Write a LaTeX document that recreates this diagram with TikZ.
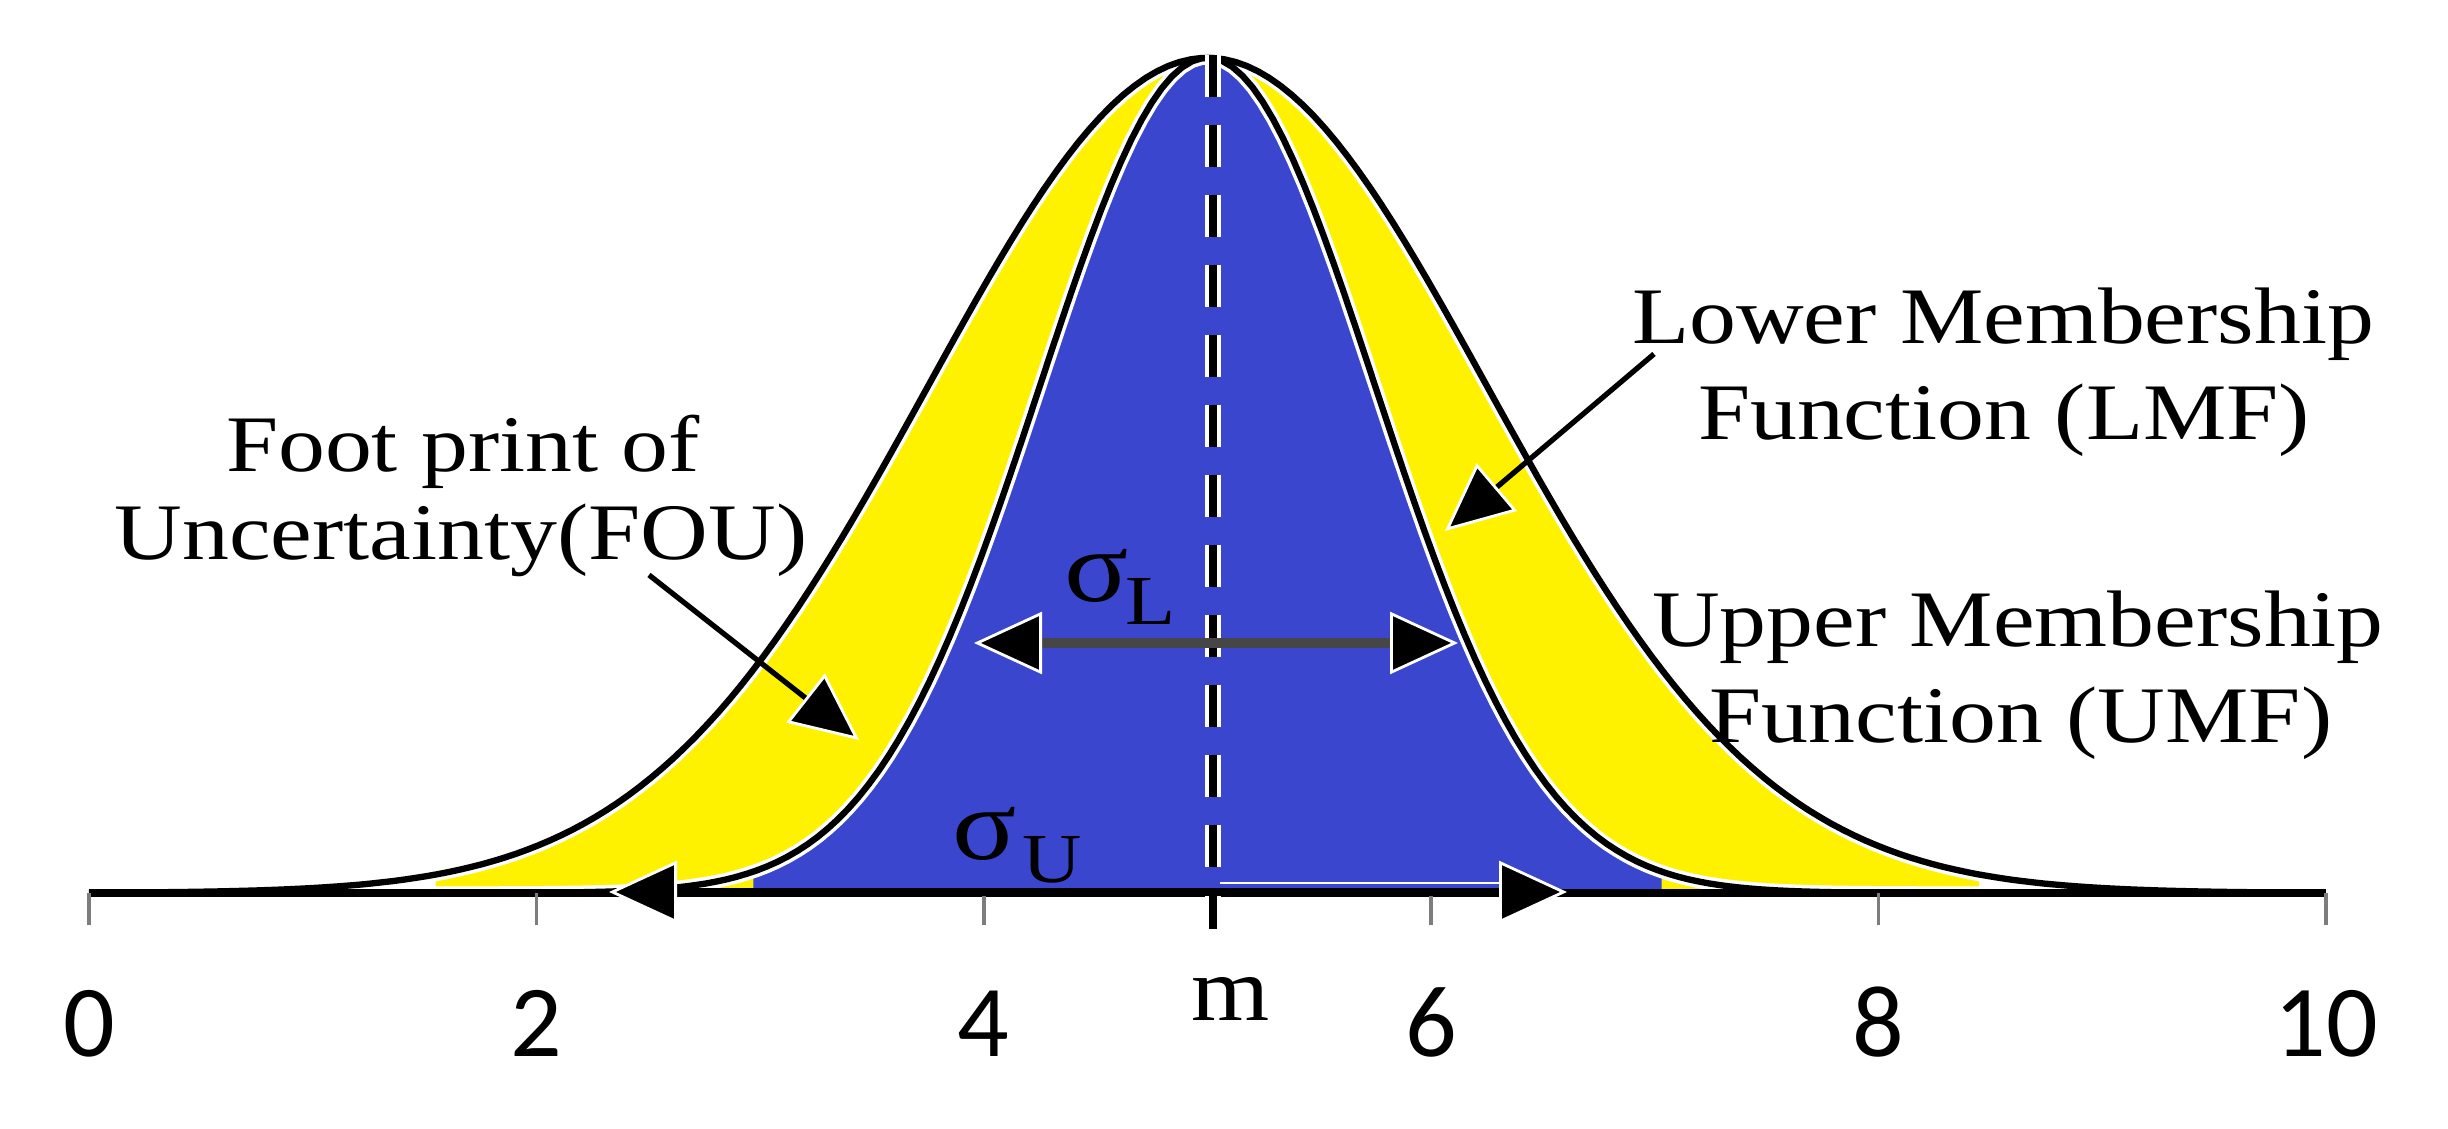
\documentclass[tikz,border=0pt]{standalone}
\usepackage{fontspec}
\setmainfont{Liberation Serif}
\newfontfamily\digitfont{Carlito}
\usepackage{graphicx}
\usetikzlibrary{arrows.meta}
\definecolor{fouyellow}{RGB}{255,242,0}
\definecolor{lmfblue}{RGB}{58,70,206}
\definecolor{shaftgray}{RGB}{70,70,70}
\definecolor{tickgray}{RGB}{125,125,125}
\newcommand\wide[1]{\scalebox{1.17}[1]{#1}}
\tikzset{
  lbl/.style={inner sep=0pt, anchor=base, font=\fontsize{22.8}{27}\selectfont},
  ticklbl/.style={inner sep=0pt, anchor=base, font=\digitfont\fontsize{29}{34}\selectfont},
  sig/.style={inner sep=0pt, anchor=base west, font=\fontsize{29}{33}\selectfont},
  sigsub/.style={inner sep=0pt, anchor=base west, font=\fontsize{20}{24}\selectfont},
  curvehalo/.style={draw=white, line width=3.8pt},
  curveline/.style={draw=black, line width=1.8pt},
  tickline/.style={draw=tickgray, line width=1pt},
  headtip/.tip={Triangle[length=0.68cm, width=0.62cm, fill=black, color=white, line width=0.8pt]},
  ptr/.style={draw=black, line width=1.5pt, -headtip},
  dimarrow/.style={draw=shaftgray, line width=2.6pt, headtip-headtip},
}
\begin{document}
\begin{tikzpicture}
\useasboundingbox (0,0) rectangle (24.48,11.29);
% curves and fills
\begin{scope}[xshift=0.89cm, yshift=2.36cm, x=2.237cm, y=8.35cm]
  \fill[fouyellow] (1.55,0) -- plot[domain=1.55:8.45, samples=140] (\x,{exp(-((\x-5)^2)/3.125)}) -- (8.45,0) -- cycle;
  \fill[lmfblue] (2.97,0) -- plot[domain=2.97:7.03, samples=140] (\x,{exp(-((\x-5)^2)/1.125)}) -- (7.03,0) -- cycle;
  \draw[curvehalo] plot[domain=0:10, samples=200] (\x,{exp(-((\x-5)^2)/3.125)});
  \draw[curvehalo] plot[domain=0.5:9.5, samples=200] (\x,{exp(-((\x-5)^2)/1.125)});
  \draw[curveline] plot[domain=0:10, samples=200] (\x,{exp(-((\x-5)^2)/3.125)});
  \draw[curveline] plot[domain=0.5:9.5, samples=200] (\x,{exp(-((\x-5)^2)/1.125)});
\end{scope}
% axis
\coordinate (axL) at (0.89,2.36);
\coordinate (axR) at (23.26,2.36);
\draw[black, line width=2pt] (axL) -- (axR);
\foreach \k/\xx in {0/0.89, 2/5.364, 4/9.838, 6/14.312, 8/18.786, 10/23.26}{
  \coordinate (tk\k) at (\xx,2.36);
  \draw[tickline] (tk\k) -- ++(0,-0.32);
  \node[ticklbl] (t\k) at (\xx,0.72) {\k};
}
% dashed mean line
\coordinate (mtop) at (12.13,10.74);
\coordinate (mbot) at (12.13,2.00);
\draw[white, line width=0.16cm, dash pattern=on 0.42cm off 0.28cm] (mtop) -- (mbot);
\draw[black, line width=0.085cm, dash pattern=on 0.42cm off 0.28cm] (mtop) -- (mbot);
\node[inner sep=0pt, anchor=base, font=\fontsize{26}{30}\selectfont] (mlab) at (12.31,1.08) {\scalebox{1.1}[1]{m}};
% sigma arrows
\coordinate (sLa) at (9.74,4.86);
\coordinate (sLb) at (14.58,4.86);
\draw[dimarrow] (sLa) -- (sLb);
\coordinate (sUa) at (6.09,2.37);
\coordinate (sUb) at (15.67,2.37);
\draw[draw=black, line width=2pt, headtip-headtip] (sUa) -- (sUb);
\coordinate (sUw) at (12.2,2.46);
\coordinate (sUe) at (15.0,2.46);
\draw[white, line width=0.8pt] (sUw) -- (sUe);
\node[sig] (sigL) at (10.64,5.27) {\wide{σ}};
\node[sigsub] (sigLsub) at (11.25,5.04) {\wide{L}};
\node[sig] (sigU) at (9.52,2.69) {\wide{σ}};
\node[sigsub] (sigUsub) at (10.22,2.46) {\wide{U}};
% labels
\node[lbl] (fou1) at (4.63,6.57) {\wide{Foot print of}};
\node[lbl] (fou2) at (4.61,5.69) {\wide{Uncertainty(FOU)}};
\node[lbl] (lmf1) at (20.03,7.85) {\wide{Lower Membership}};
\node[lbl] (lmf2) at (20.04,6.89) {\wide{Function (LMF)}};
\node[lbl] (umf1) at (20.18,4.82) {\wide{Upper Membership}};
\node[lbl] (umf2) at (20.21,3.86) {\wide{Function (UMF)}};
% pointer arrows
\coordinate (fouS) at (6.49,5.54);
\coordinate (fouT) at (8.59,3.89);
\draw[ptr] (fouS) -- (fouT);
\coordinate (lmfS) at (16.54,7.75);
\coordinate (lmfT) at (14.45,5.98);
\draw[ptr] (lmfS) -- (lmfT);
\end{tikzpicture}
\end{document}
